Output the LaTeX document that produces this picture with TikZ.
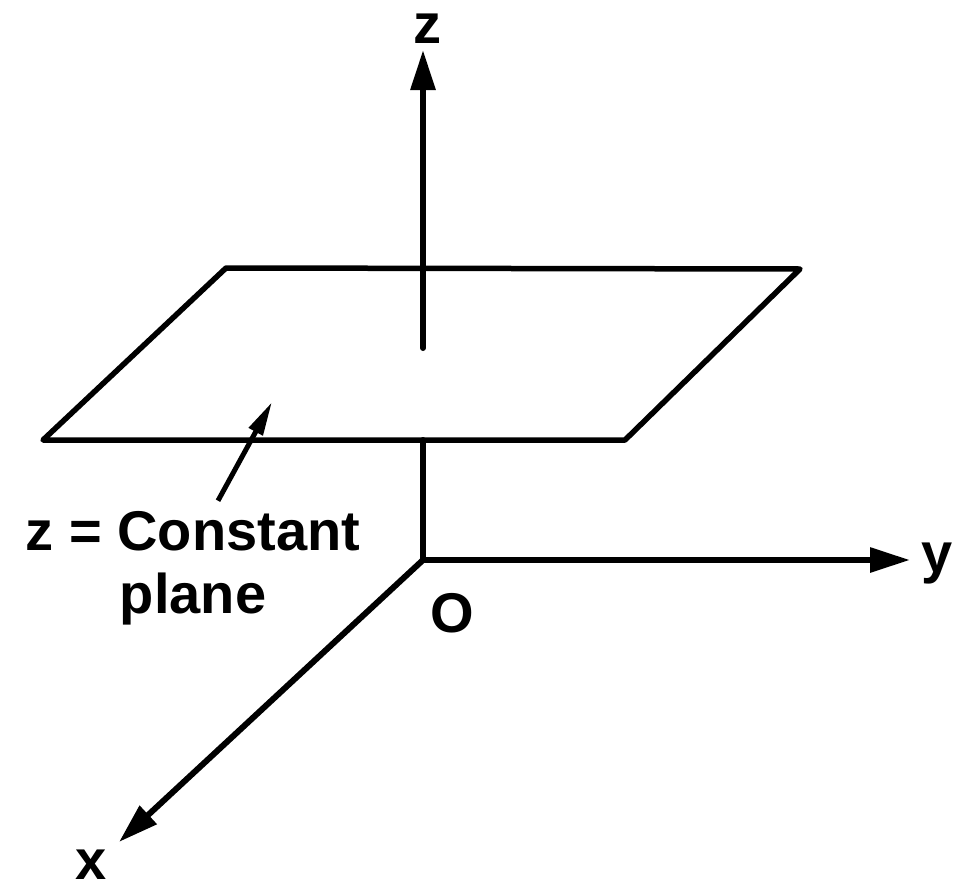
\documentclass[tikz,border=0pt]{standalone}
\usepackage{fontspec}
\setmainfont{Liberation Sans}
\usetikzlibrary{arrows.meta}

\begin{document}
\begin{tikzpicture}[
  x=1pt, y=-1pt,
  font=\fontsize{56}{63}\selectfont\bfseries,
  asse/.style={draw=black, line width=6pt, line cap=round, -{Triangle[length=40pt,width=24pt]}},
  tratto/.style={draw=black, line width=6pt, line cap=round, line join=round},
  piano/.style={draw=black, line width=5.5pt, line join=round},
  etichetta/.style={anchor=base, inner sep=0pt},
  freccia/.style={draw=black, line width=5pt, -{Triangle[length=34pt,width=15pt]}}
]
\useasboundingbox (0,0) rectangle (971,891);

% ---- punti di riferimento ----------------------------------------------
\coordinate (O) at (423,560);
\coordinate (zfine) at (423,50);
\coordinate (yfine) at (910,560);
\coordinate (xfine) at (119,842);

%==============================================================
% Piano z = costante
%==============================================================
\coordinate (A) at (43,440);
\coordinate (B) at (625,440);
\coordinate (C) at (800,269);
\coordinate (D) at (226,268);
\draw[piano] (A) -- (B) -- (C) -- (D) -- cycle;

%==============================================================
% Assi
%==============================================================
\coordinate (zfronte) at (423,440);
\coordinate (zdietro) at (423,348);
\draw[tratto] (zfronte) -- (O) -- ([xshift=10pt]O);
\draw[asse] (zdietro) -- (zfine);
\draw[asse] (O) -- (yfine);
\draw[asse] (O) -- (xfine);

\node[etichetta] (zlab) at (427,44) {z};
\node[etichetta] (ylab) at (937,572) {y};
\node[etichetta] (xlab) at (91,879) {x};
\node[etichetta] (Olab) at (452,632) {O};

% ---- didascalia del piano ----------------------------------------------
\node[etichetta] (costante) at (193,550) {z = Constant};
\node[etichetta] (pianolab) at (193,613) {plane};
\coordinate (punta) at (272,402);
\draw[freccia] ([xshift=25pt,yshift=10pt]costante.north) -- (punta);

\end{tikzpicture}
\end{document}
